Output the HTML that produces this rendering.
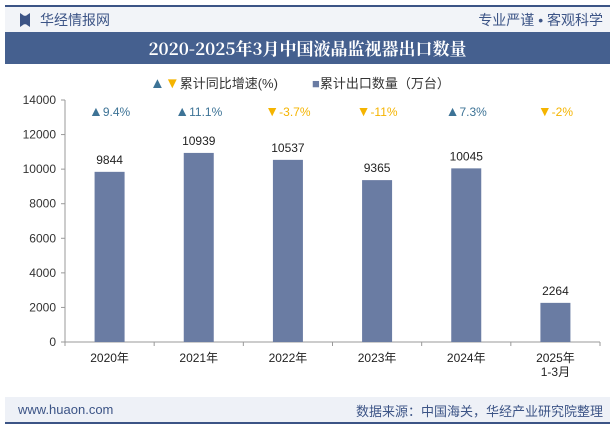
<!DOCTYPE html>
<html><head><meta charset="utf-8"><style>
body{margin:0;width:615px;height:427px;background:#fff;font-family:"Liberation Sans","Noto Sans CJK SC",sans-serif;overflow:hidden;position:relative}
.abs{position:absolute}
</style></head><body>
<div class="abs" style="left:5px;top:5px;width:605px;height:2px;background:#3c5486"></div>
<div class="abs" style="left:5px;top:7px;width:605px;height:25px;background:#f2f4f8"></div>
<div class="abs" style="left:20px;top:13px;width:10px;height:14px;background:#3c5486;clip-path:polygon(0 0,40% 20%,60% 20%,100% 0,100% 100%,60% 80%,40% 80%,0 100%)"></div>
<div class="abs" style="left:40px;top:10px;font-size:14px;color:#3c5486">华经情报网</div>
<div class="abs" style="right:12px;top:10px;font-size:14px;color:#3c5486">专业严谨 • 客观科学</div>
<div class="abs" style="left:5px;top:32px;width:605px;height:32px;background:#45608f;color:#fff;font-family:'Noto Serif CJK SC','Liberation Serif',serif;font-weight:bold;font-size:17px;line-height:32px;text-align:center">2020-2025年3月中国液晶监视器出口数量</div>
<div class="abs" style="left:150px;top:73px;font-size:13px;color:#333"><span style="color:#3d7396;font-size:15px">▲</span><span style="color:#f5b400;font-size:15px">▼</span>累计同比增速(%)</div>
<div class="abs" style="left:312px;top:73px;font-size:13px;color:#333"><span style="color:#6a7ca3">■</span>累计出口数量（万台）</div>
<svg class="abs" style="left:0;top:0" width="615" height="427">
<g id="g"></g>
</svg>
<div class="abs" style="left:5px;top:397px;width:605px;height:25px;background:#eef1f7"></div>
<div class="abs" style="left:5px;top:422px;width:605px;height:2px;background:#3c5486"></div>
<div class="abs" style="left:18px;top:402px;font-size:13px;color:#3c5486">www.huaon.com</div>
<div class="abs" style="right:12px;top:401px;font-size:13px;color:#3c5486">数据来源：中国海关，华经产业研究院整理</div>
<script>
const categories=["2020年","2021年","2022年","2023年","2024年","2025年|1-3月"];
const values=[9844,10939,10537,9365,10045,2264];
const growth=[9.4,11.1,-3.7,-11,7.3,-2];
const growthLabels=["9.4%","11.1%","-3.7%","-11%","7.3%","-2%"];
const yTicks=[0,2000,4000,6000,8000,10000,12000,14000];
const g=document.getElementById('g');const NS='http://www.w3.org/2000/svg';
const x0=65,x1=600,y0=342,y1=100,bw=(x1-x0)/categories.length;
const Y=v=>y0-(v/14000)*(y0-y1);const X=i=>x0+bw*(i+0.5);
function mk(t,a,txt,p){const e=document.createElementNS(NS,t);for(const k in a)e.setAttribute(k,a[k]);if(txt!==undefined)e.textContent=txt;(p||g).appendChild(e);return e;}
let e=mk('line',{x1:x0,y1:y1,x2:x0,y2:y0,stroke:'#999'});

e=mk('line',{x1:x0,y1:y0,x2:x1,y2:y0,stroke:'#999'});

yTicks.forEach(v=>{
 e=mk('line',{x1:x0-4,y1:Y(v),x2:x0,y2:Y(v),stroke:'#999'});
 
 e=mk('text',{x:x0-9,y:Y(v)+4,'text-anchor':'end','font-size':12,fill:'#333'},v);
 
});
for(let i=0;i<=categories.length;i++){e=mk('line',{x1:x0+bw*i,y1:y0,x2:x0+bw*i,y2:y0+4,stroke:'#999'});
 }
categories.forEach((c,i)=>{
 const cx=X(i);
 e=mk('rect',{x:cx-15,y:Y(values[i]),width:30,height:y0-Y(values[i]),fill:'#6a7ca3'});
 
 e=mk('text',{x:cx,y:Y(values[i])-8,'text-anchor':'middle','font-size':12,fill:'#222'},values[i]);
 
 c.split('|').forEach((p,j)=>{e=mk('text',{x:cx,y:362+j*14,'text-anchor':'middle','font-size':12,fill:'#222'},p);
 });
 const up=growth[i]>=0;
 e=mk('text',{x:cx,y:116,'text-anchor':'middle','font-size':12,fill:up?'#3d7396':'#f5b400'});
 
 mk('tspan',{'font-size':14},up?'▲':'▼',e);
 mk('tspan',{},growthLabels[i],e);
});
</script>
</body></html>
